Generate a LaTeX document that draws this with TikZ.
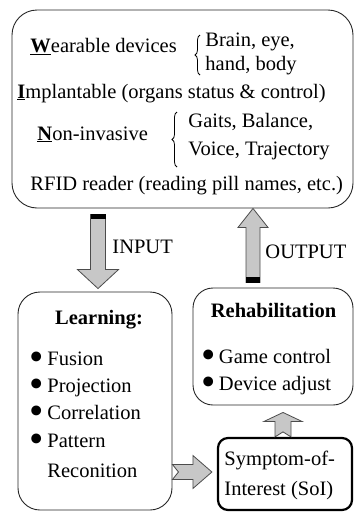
\documentclass[tikz,border=0pt]{standalone}
\usepackage{fontspec}
\setmainfont{Liberation Serif}
\usetikzlibrary{calc,decorations.pathreplacing}

\tikzset{every picture/.style={line width=0.9pt}}
\tikzset{
	shaftw/.store in=\shaftw, headw/.store in=\headw,
	headl/.store in=\headl, notch/.store in=\notch,
	shaftw=7.5, headw=20, headl=19, notch=0,
	box/.style={draw=black!85, rounded corners=22pt, inner sep=0pt},
	txt/.style={anchor=base west, inner sep=0pt},
	fat/.style={draw=black!70, fill=black!22, line width=0.8pt},
	fatdown/.style={fat, to path={let \p1=(\tikztostart), \p2=(\tikztotarget) in
		(\x1-\shaftw pt,\y1) -- (\x1,\y1-\notch pt) -- (\x1+\shaftw pt,\y1)
		-- (\x1+\shaftw pt,\y2+\headl pt) -- (\x1+\headw pt,\y2+\headl pt) -- (\x1,\y2)
		-- (\x1-\headw pt,\y2+\headl pt) -- (\x1-\shaftw pt,\y2+\headl pt) -- cycle}},
	fatup/.style={fat, to path={let \p1=(\tikztostart), \p2=(\tikztotarget) in
		(\x1-\shaftw pt,\y1) -- (\x1,\y1+\notch pt) -- (\x1+\shaftw pt,\y1)
		-- (\x1+\shaftw pt,\y2-\headl pt) -- (\x1+\headw pt,\y2-\headl pt) -- (\x1,\y2)
		-- (\x1-\headw pt,\y2-\headl pt) -- (\x1-\shaftw pt,\y2-\headl pt) -- cycle}},
	fatright/.style={fat, to path={let \p1=(\tikztostart), \p2=(\tikztotarget) in
		(\x1,\y1+\shaftw pt) -- (\x1+\notch pt,\y1) -- (\x1,\y1-\shaftw pt)
		-- (\x2-\headl pt,\y1-\shaftw pt) -- (\x2-\headl pt,\y1-\headw pt) -- (\x2,\y1)
		-- (\x2-\headl pt,\y1+\headw pt) -- (\x2-\headl pt,\y1+\shaftw pt) -- cycle}},
	curly/.style={decorate, decoration={brace, mirror, amplitude=5pt}, line width=0.8pt}
}
\newcommand{\bul}{\makebox[17.5pt][l]{\raisebox{-5pt}{\scalebox{2}{\textbullet}}}}

\begin{document}
\begin{tikzpicture}[x=1pt,y=-1pt,font=\fontsize{20.5}{24}\selectfont]
	\useasboundingbox (0,0) rectangle (354,512);
	%Input box
	\node[box, rounded corners=25pt, minimum width=341pt, minimum height=198pt] (inbox) at (182.5,109) {};
	\node[txt] (wear) at (30,52) {\underline{\textbf{W}}earable devices};
	\node[txt] (brain) at (205,46) {Brain, eye,};
	\node[txt] (hand) at (205,70) {hand, body};
	\draw[curly] (200,35) -- (200,75);
	\node[txt] (impl) at (17,98) {\underline{\textbf{I}}mplantable (organs status \& control)};
	\node[txt] (noninv) at (37,140) {\underline{\textbf{N}}on-invasive};
	\node[txt] (gaits) at (188,127) {Gaits, Balance,};
	\node[txt] (voice) at (188,155) {Voice, Trajectory};
	\draw[curly] (177,112) -- (177,167);
	\node[txt] (rfid) at (30,190) {RFID reader (reading pill names, etc.)};
	%Learning box
	\node[box, minimum width=154pt, minimum height=218pt] (learn) at (95,401) {};
	\node[anchor=base, inner sep=0pt] (learnT) at (99,324) {\textbf{Learning:}};
	\node[txt] (fus) at (29.5,365) {\bul Fusion};
	\node[txt] (proj) at (29.5,392) {\bul Projection};
	\node[txt] (corr) at (29.5,419) {\bul Correlation};
	\node[txt] (patt) at (29.5,447) {\bul Pattern};
	\node[txt] (reco) at (47,477) {Reconition};
	%Rehabilitation box
	\node[box, rounded corners=20pt, minimum width=160pt, minimum height=117pt] (rehab) at (273,346.5) {};
	\node[anchor=base, inner sep=0pt] (rehabT) at (273.5,317) {\textbf{Rehabilitation}};
	\node[txt] (game) at (201,363) {\bul Game control};
	\node[txt] (dev) at (201,390) {\bul Device adjust};
	%SoI box
	\node[box, rounded corners=10pt, line width=2.2pt, draw=black, minimum width=134pt, minimum height=72pt] (soi) at (285,474) {};
	\node[txt] (soiA) at (224,465) {Symptom-of-};
	\node[txt] (soiB) at (224,495) {Interest (SoI)};
	%Connectors
	\coordinate (inT) at ($(learn.north |- inbox.south)+(3,6)$);
	\coordinate (inH) at ($(learn.north)+(3,-3)$);
	\draw[fatdown, shaftw=7.5, headw=20.5, headl=19] (inT) to (inH);
	\fill ($(inT)+(-7.5,0)$) rectangle ($(inT)+(7.5,5)$);
	\node[txt] (inlbl) at (112,253) {INPUT};
	\coordinate (outT) at ($(rehab.north)+(-20,-5)$);
	\coordinate (outH) at ($(rehab.north |- inbox.south)+(-20,0)$);
	\draw[fatup, shaftw=7, headw=15, headl=19] (outT) to (outH);
	\fill ($(outT)+(-7,0)$) rectangle ($(outT)+(7,-6)$);
	\node[txt] (outlbl) at (265,258) {OUTPUT};
	\coordinate (soT) at ($(soi.north)+(-2,0)$);
	\coordinate (soH) at ($(soi.north |- rehab.south)+(-2,7)$);
	\draw[fatup, shaftw=8, headw=19, headl=9, notch=5] (soT) to (soH);
	\coordinate (leT) at ($(learn.east |- soi.west)+(0,-2)$);
	\coordinate (leH) at ($(soi.west)+(-5,-2)$);
	\draw[fatright, shaftw=7.5, headw=16.5, headl=19, notch=6] (leT) to (leH);
\end{tikzpicture}
\end{document}
